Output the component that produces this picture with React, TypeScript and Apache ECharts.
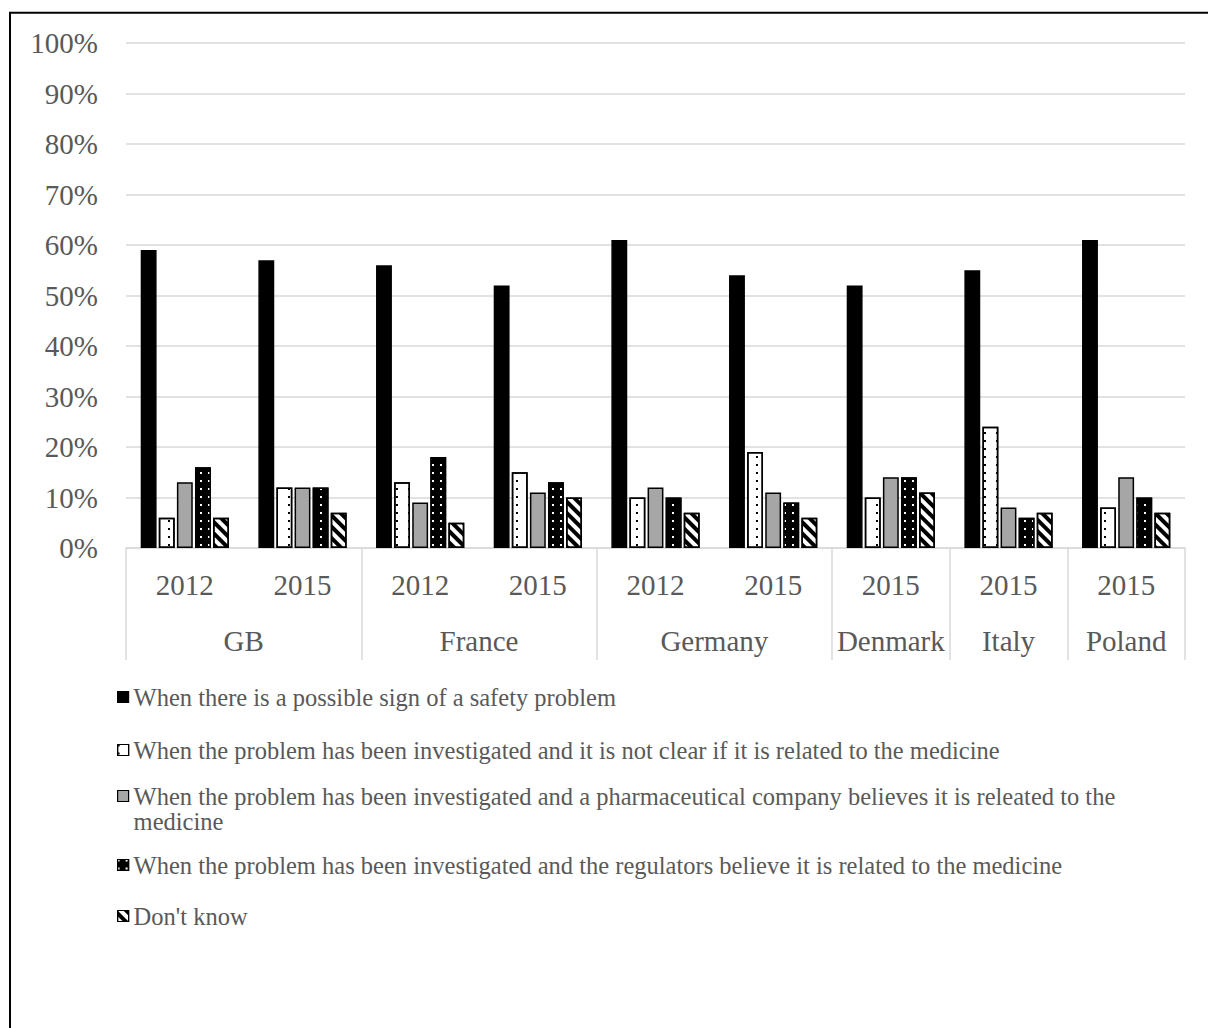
import React, { useEffect, useRef } from "react";
import * as echarts from "echarts";

const years = ["2012", "2015", "2012", "2015", "2012", "2015", "2015", "2015", "2015"];
const countries = ["GB", "France", "Germany", "Denmark", "Italy", "Poland"];
const groupSizes = [2, 2, 2, 1, 1, 1];
const yTicks = [0, 0.1, 0.2, 0.3, 0.4, 0.5, 0.6, 0.7, 0.8, 0.9, 1];

const seriesNames = [
  "When there is a possible sign of a safety problem",
  "When the problem has been investigated and it is not clear if it is related to the medicine",
  "When the problem has been investigated and a pharmaceutical company believes it is releated to the medicine",
  "When the problem has been investigated and the regulators believe it is related to the medicine",
  "Don't know",
];

const possibleSign = [0.59, 0.57, 0.56, 0.52, 0.61, 0.54, 0.52, 0.55, 0.61];
const notClear = [0.06, 0.12, 0.13, 0.15, 0.1, 0.19, 0.1, 0.24, 0.08];
const companyBelieves = [0.13, 0.12, 0.09, 0.11, 0.12, 0.11, 0.14, 0.08, 0.14];
const regulatorsBelieve = [0.16, 0.12, 0.18, 0.13, 0.1, 0.09, 0.14, 0.06, 0.1];
const dontKnow = [0.06, 0.07, 0.05, 0.1, 0.07, 0.06, 0.11, 0.07, 0.07];

const seriesData = [possibleSign, notClear, companyBelieves, regulatorsBelieve, dontKnow];

const FONT = "'Liberation Serif', 'Times New Roman', serif";
const TEXT = "#595959";
const GRID = "#d9d9d9";

const fills = ["#000000", "#ffffff", "#a6a6a6", "#000000", "#ffffff"];
const decals: any[] = [
  null,
  { symbol: "rect", symbolSize: 1, color: "#000000", dashArrayX: [2, 10], dashArrayY: [2, 6] },
  null,
  { symbol: "rect", symbolSize: 1, color: "#ffffff", dashArrayX: [2, 6], dashArrayY: [2, 6] },
  { symbol: "rect", symbolSize: 1, color: "#000000", dashArrayX: [1, 0], dashArrayY: [4, 4], rotation: Math.PI / 4 },
];

const legendCenters = [697, 750, 796, 865, 916];

export default function App() {
  const ref = useRef<HTMLDivElement>(null);
  useEffect(() => {
    if (!ref.current) return;
    const chart = echarts.init(ref.current, null, { renderer: "svg" });

    const bounds: number[] = [0];
    const centers: number[] = [];
    let acc = 0;
    groupSizes.forEach((s) => {
      centers.push(acc + s / 2);
      acc += s;
      bounds.push(acc);
    });

    const series = seriesNames.map((name, i) => ({
      name,
      type: "bar",
      xAxisIndex: 0,
      yAxisIndex: 0,
      barGap: "14%",
      barCategoryGap: "25%",
      data: seriesData[i],
      itemStyle: {
        color: fills[i],
        borderColor: "#000",
        borderWidth: 1.5,
        decal: decals[i] || undefined,
      },
    }));

    const legends = seriesNames.map((name, i) => {
      const twoLine = i === 2;
      return {
        data: [name],
        orient: "vertical",
        left: 117,
        top: twoLine ? legendCenters[i] - 37.5 : legendCenters[i] - 12.5,
        padding: 0,
        itemWidth: 11,
        itemHeight: 11,
        icon: "rect",
        selectedMode: false,
        formatter: (n: string) =>
          twoLine ? " \n" + n.replace(/ (medicine)$/, "\n$1") : n,
        textStyle: {
          fontFamily: FONT,
          fontSize: 24.5,
          color: TEXT,
          lineHeight: 25,
        },
        itemStyle: { borderColor: "#000", borderWidth: 1.2 },
      };
    });

    chart.setOption({
      animation: false,
      backgroundColor: "#ffffff",
      grid: { left: 126, right: 23, top: 43, bottom: 480, containLabel: false },
      legend: legends,
      xAxis: [
        {
          type: "category",
          data: years,
          position: "bottom",
          axisLine: { show: true, lineStyle: { color: GRID, width: 1.5 } },
          axisTick: { show: false },
          axisLabel: {
            interval: 0,
            margin: 22,
            fontFamily: FONT,
            fontSize: 29,
            color: TEXT,
          },
          splitLine: { show: false },
        },
        {
          type: "value",
          min: 0,
          max: years.length,
          position: "bottom",
          axisLine: { show: false },
          axisTick: {
            show: true,
            customValues: bounds,
            length: 112,
            inside: false,
            lineStyle: { color: GRID, width: 1.5 },
          },
          axisLabel: {
            show: true,
            customValues: centers,
            hideOverlap: false,
            margin: 78,
            fontFamily: FONT,
            fontSize: 29,
            color: TEXT,
            formatter: (v: number) => {
              const idx = centers.findIndex((c) => Math.abs(c - v) < 1e-6);
              return idx >= 0 ? countries[idx] : "";
            },
          },
          splitLine: { show: false },
        },
      ],
      yAxis: {
        type: "value",
        min: 0,
        max: 1,
        interval: 0.1,
        axisLine: { show: false },
        axisTick: { show: false },
        axisLabel: {
          margin: 28,
          fontFamily: FONT,
          fontSize: 29,
          color: TEXT,
          formatter: (v: number) => {
            const t = yTicks.find((x) => Math.abs(x - v) < 1e-6);
            return `${Math.round((t ?? v) * 100)}%`;
          },
        },
        splitLine: { show: true, lineStyle: { color: GRID, width: 1.5 } },
      },
      series,
      graphic: [
        {
          type: "rect",
          silent: true,
          shape: { x: 10, y: 12.7, width: 1400, height: 1400 },
          style: { fill: "none", stroke: "#000", lineWidth: 2 },
        },
      ],
    });
    return () => chart.dispose();
  }, []);
  return (
    <div
      ref={ref}
      style={{ position: "absolute", left: 0, top: 0, width: 1208, height: 1028 }}
    />
  );
}
